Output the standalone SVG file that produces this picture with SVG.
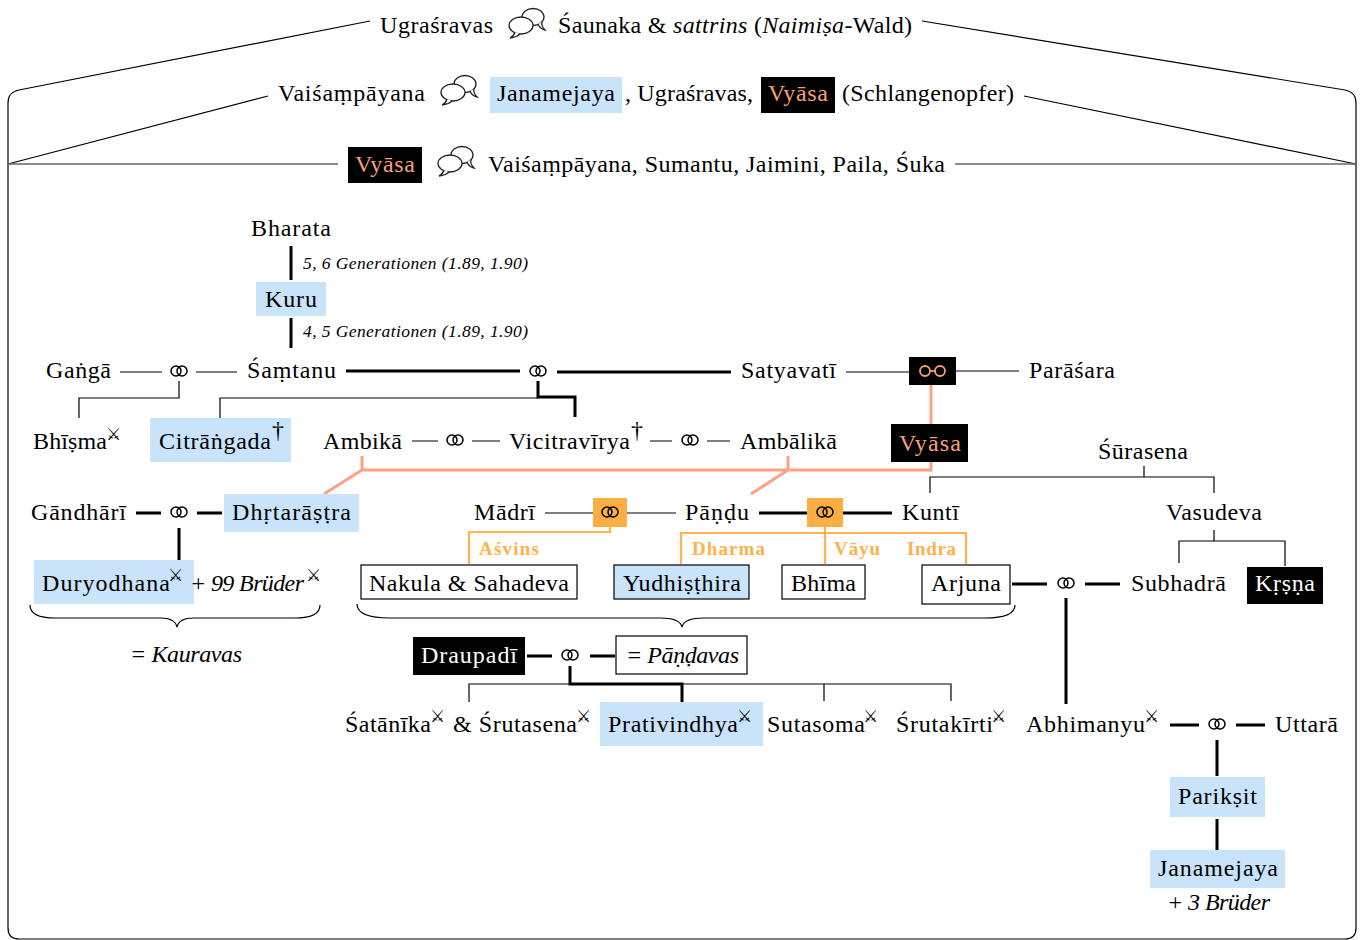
<svg xmlns="http://www.w3.org/2000/svg" xmlns:xlink="http://www.w3.org/1999/xlink" width="1363" height="940" viewBox="0 0 1363 940">
<style>
.t{font-family:"Liberation Serif","DejaVu Serif",serif;font-size:24px;fill:#000}
.i{font-style:italic}
.s{font-family:"Liberation Serif","DejaVu Serif",serif;font-size:17.5px;font-style:italic;fill:#000}
.lab{font-family:"Liberation Serif","DejaVu Serif",serif;font-weight:bold;font-size:19px;fill:#fdb24a}
.v{fill:#f6a07c}
.w{fill:#fff}
.x{font-family:"DejaVu Sans",sans-serif;font-size:17px;fill:#000}
.blue{fill:#c9e3fb}
.blk{fill:#000}
.ob{fill:#fdae42}
.box{fill:#fff;stroke:#000;stroke-width:1.2}
.boxb{fill:#c9e3fb;stroke:#000;stroke-width:1.2}
.thin{stroke:#000;stroke-width:1.2;fill:none}
.gray{stroke:#666;stroke-width:1.6;fill:none}
.thick{stroke:#000;stroke-width:3;fill:none}
.sal{stroke:#fca184;stroke-width:3;fill:none}
.org{stroke:#fdb44b;stroke-width:2.2;fill:none}
.frame{stroke:#000;stroke-width:1.2;fill:none}
</style>
<defs>
<g id="m" fill="none" stroke="#000" stroke-width="1.5"><circle cx="-3" cy="0" r="5"/><circle cx="3" cy="0" r="5"/></g>
<g id="bub" stroke="#222" stroke-width="1.3" fill="#fff">
<ellipse cx="26" cy="10" rx="11" ry="8.5"/>
<path d="M31,17 Q33,22 38,23 Q34,19 35,15"/>
<ellipse cx="14" cy="18.5" rx="12" ry="8.5"/>
<path d="M8,25 Q7,29 3,31 Q10,30 13,27"/>
</g>
</defs>

<g id="frame">
<path class="frame" d="M370,21 L19,90 Q8,92 8,103 L8,928 Q8,939 19,939 L1345,939 Q1356,939 1356,928 L1356,103 Q1356,92 1345,90 L922,21"/>
<path class="frame" d="M268,96 L8,164"/>
<path class="frame" d="M1024,96 L1356,164"/>
<path class="gray" d="M8,164 H338"/>
<path class="gray" d="M955,164 H1356"/>
</g>

<g id="header1">
<text class="t" x="380" y="33" textLength="113">Ugraśravas</text>
<use href="#bub" x="507" y="7"/>
<text class="t" x="558" y="33" textLength="354">Śaunaka &amp; <tspan class="i">sattrins</tspan> (<tspan class="i">Naimiṣa</tspan>-Wald)</text>
</g>
<g id="header2">
<text class="t" x="278" y="101" textLength="147">Vaiśaṃpāyana</text>
<use href="#bub" x="439" y="74"/>
<rect class="blue" x="490" y="77" width="132" height="36"/>
<text class="t" x="497" y="101" textLength="118">Janamejaya</text>
<text class="t" x="625" y="101" textLength="128">, Ugraśravas,</text>
<rect class="blk" x="761" y="77" width="74" height="36"/>
<text class="t v" x="768" y="101" textLength="60">Vyāsa</text>
<text class="t" x="842" y="101" textLength="172">(Schlangenopfer)</text>
</g>
<g id="header3">
<rect class="blk" x="348" y="147" width="74" height="36"/>
<text class="t v" x="355" y="172" textLength="60">Vyāsa</text>
<use href="#bub" x="436" y="145"/>
<text class="t" x="488" y="172" textLength="457">Vaiśaṃpāyana, Sumantu, Jaimini, Paila, Śuka</text>
</g>

<g id="connectors">
<path class="thick" d="M291,246 V280"/>
<path class="thick" d="M291,318 V348"/>
<path class="thin" d="M120,372 H162 M196,372 H237"/>
<path class="thick" d="M346,371 H520 M557,372 H731"/>
<path class="thin" d="M846,372 H909 M956,371 H1019"/>
<path class="thin" d="M179,381 V398 H79 V418"/>
<path class="thin" d="M538,398 H220 V418"/>
<path class="thick" d="M538,381 V397 H575 V417"/>
<path class="sal" d="M931,385 V424"/>
<path class="sal" d="M931,462 V470 H362 V456 M788,456 V470 M362,470 L324,494 M788,470 L751,494"/>
<path class="thin" d="M412,441 H438 M472,441 H500 M650,441 H672 M707,441 H730"/>
<path class="thick" d="M136,513 H161 M197,513 H222 M179,528 V560"/>
<path class="thin" d="M545,513 H593 M627,513 H676"/>
<path class="thick" d="M759,513 H807 M843,513 H892"/>
<path class="org" d="M610,527 V532 H469 V564"/>
<path class="org" d="M825,527 V533 M681,564 V533 H966 V564 M825,533 V564"/>
<path class="thin" d="M1144,466 V477 M930,493 V477 H1214 V493"/>
<path class="thin" d="M1214,530 V541 M1179,563 V541 H1285 V566"/>
<path class="thick" d="M1012,584 H1047 M1085,584 H1120 M1066,598 V704"/>
<path class="thin" d="M30,605 Q30,618 55,618 H160 Q175,618 177,627 Q179,618 194,618 H295 Q320,618 320,605"/>
<path class="thin" d="M357,604 Q357,618 390,618 H660 Q680,618 682,627 Q684,618 704,618 H985 Q1015,618 1015,605"/>
<path class="thick" d="M527,656 H552 M590,656 H615 M570,666 V684 H682 V703"/>
<path class="thin" d="M469,702 V684 H951 V701 M824,684 V701"/>
<path class="thick" d="M1170,725 H1199 M1236,725 H1265 M1217,740 V776 M1217,819 V850"/>
</g>

<g id="marriages">
<use href="#m" x="179" y="371"/>
<use href="#m" x="538" y="371"/>
<use href="#m" x="455" y="440"/>
<use href="#m" x="690" y="440"/>
<use href="#m" x="179" y="512"/>
<use href="#m" x="1066" y="583"/>
<use href="#m" x="570" y="655"/>
<use href="#m" x="1217" y="724"/>
</g>

<g id="bharata"><text class="t" x="251" y="236" textLength="80">Bharata</text></g>
<g id="gen1"><text class="s" x="303" y="269" textLength="225">5, 6 Generationen (1.89, 1.90)</text></g>
<g id="kuru"><rect class="blue" x="256" y="282" width="70" height="34"/><text class="t" x="265" y="307" textLength="52">Kuru</text></g>
<g id="gen2"><text class="s" x="303" y="337" textLength="225">4, 5 Generationen (1.89, 1.90)</text></g>
<g id="ganga"><text class="t" x="46" y="378" textLength="65">Gaṅgā</text></g>
<g id="samtanu"><text class="t" x="247" y="378" textLength="89">Śaṃtanu</text></g>
<g id="satyavati"><text class="t" x="741" y="378" textLength="95">Satyavatī</text></g>
<g id="unmarried">
<rect class="blk" x="909" y="357" width="47" height="28"/>
<circle cx="925" cy="371" r="5" fill="none" stroke="#f6a07c" stroke-width="1.8"/>
<circle cx="940" cy="371" r="5" fill="none" stroke="#f6a07c" stroke-width="1.8"/>
<path d="M930,371 H935" stroke="#f6a07c" stroke-width="1.8"/>
</g>
<g id="parasara"><text class="t" x="1029" y="378" textLength="86">Parāśara</text></g>

<g id="bhisma"><text class="t" x="33" y="449" textLength="74">Bhīṣma</text><text class="x" x="106" y="440">⚔︎</text></g>
<g id="citrangada"><rect class="blue" x="150" y="418" width="141" height="44"/><text class="t" x="159" y="449" textLength="112">Citrāṅgada</text><text class="t" x="272" y="438" font-size="15">†</text></g>
<g id="ambika"><text class="t" x="323" y="449" textLength="79">Ambikā</text></g>
<g id="vicitravirya"><text class="t" x="509" y="449" textLength="121">Vicitravīrya</text><text class="t" x="631" y="438" font-size="15">†</text></g>
<g id="ambalika"><text class="t" x="740" y="449" textLength="97">Ambālikā</text></g>
<g id="vyasa"><rect class="blk" x="891" y="424" width="77" height="38"/><text class="t v" x="899" y="451" textLength="62">Vyāsa</text></g>
<g id="surasena"><text class="t" x="1098" y="459" textLength="90">Śūrasena</text></g>

<g id="gandhari"><text class="t" x="31" y="520" textLength="95">Gāndhārī</text></g>
<g id="dhrtarastra"><rect class="blue" x="224" y="494" width="135" height="38"/><text class="t" x="232" y="520" textLength="119">Dhṛtarāṣṭra</text></g>
<g id="madri"><text class="t" x="474" y="520" textLength="61">Mādrī</text></g>
<g id="madri-m"><rect class="ob" x="593" y="498" width="34" height="29"/><use href="#m" x="610" y="512"/></g>
<g id="pandu"><text class="t" x="685" y="520" textLength="64">Pāṇḍu</text></g>
<g id="kunti-m"><rect class="ob" x="807" y="498" width="36" height="29"/><use href="#m" x="825" y="512"/></g>
<g id="kunti"><text class="t" x="902" y="520" textLength="57">Kuntī</text></g>
<g id="vasudeva"><text class="t" x="1166" y="520" textLength="96">Vasudeva</text></g>

<g id="gods">
<text class="lab" x="479" y="555" textLength="60">Aśvins</text>
<text class="lab" x="692" y="555" textLength="73">Dharma</text>
<text class="lab" x="834" y="555" textLength="46">Vāyu</text>
<text class="lab" x="907" y="555" textLength="49">Indra</text>
</g>

<g id="duryodhana"><rect class="blue" x="34" y="560" width="160" height="44"/><text class="t" x="42" y="591" textLength="128">Duryodhana</text><text class="x" x="168" y="581">⚔︎</text></g>
<g id="brueder99"><text class="t i" x="190" y="591" textLength="114">+ 99 Brüder</text><text class="x" x="306" y="581">⚔︎</text></g>
<g id="nakula"><rect class="box" x="361" y="565" width="216" height="34"/><text class="t" x="369" y="591" textLength="200">Nakula &amp; Sahadeva</text></g>
<g id="yudhisthira"><rect class="boxb" x="614" y="565" width="135" height="34"/><text class="t" x="623" y="591" textLength="118">Yudhiṣṭhira</text></g>
<g id="bhima"><rect class="box" x="782" y="565" width="83" height="34"/><text class="t" x="791" y="591" textLength="65">Bhīma</text></g>
<g id="arjuna"><rect class="box" x="922" y="565" width="88" height="39"/><text class="t" x="931" y="591" textLength="70">Arjuna</text></g>
<g id="subhadra"><text class="t" x="1131" y="591" textLength="95">Subhadrā</text></g>
<g id="krsna"><rect class="blk" x="1247" y="567" width="76" height="37"/><text class="t w" x="1255" y="591" textLength="60">Kṛṣṇa</text></g>

<g id="kauravas"><text class="t i" x="130" y="662" textLength="112">= Kauravas</text></g>
<g id="draupadi"><rect class="blk" x="413" y="637" width="112" height="38"/><text class="t w" x="421" y="663" textLength="96">Draupadī</text></g>
<g id="pandavas"><rect class="box" x="616" y="636" width="131" height="38"/><text class="t i" x="626" y="663" textLength="113">= Pāṇḍavas</text></g>

<g id="satanika"><text class="t" x="345" y="732" textLength="86">Śatānīka</text><text class="x" x="430" y="722">⚔︎</text><text class="t" x="453" y="732" textLength="124">&amp; Śrutasena</text><text class="x" x="576" y="722">⚔︎</text></g>
<g id="prativindhya"><rect class="blue" x="600" y="702" width="163" height="44"/><text class="t" x="608" y="732" textLength="130">Prativindhya</text><text class="x" x="737" y="722">⚔︎</text></g>
<g id="sutasoma"><text class="t" x="767" y="732" textLength="98">Sutasoma</text><text class="x" x="863" y="722">⚔︎</text></g>
<g id="srutakirti"><text class="t" x="896" y="732" textLength="97">Śrutakīrti</text><text class="x" x="991" y="722">⚔︎</text></g>
<g id="abhimanyu"><text class="t" x="1026" y="732" textLength="119">Abhimanyu</text><text class="x" x="1144" y="722">⚔︎</text></g>
<g id="uttara"><text class="t" x="1275" y="732" textLength="63">Uttarā</text></g>
<g id="pariksit"><rect class="blue" x="1170" y="777" width="95" height="40"/><text class="t" x="1178" y="804" textLength="79">Parikṣit</text></g>
<g id="janamejaya"><rect class="blue" x="1150" y="850" width="135" height="38"/><text class="t" x="1158" y="876" textLength="120">Janamejaya</text><text class="t i" x="1167" y="910" textLength="103">+ 3 Brüder</text></g>
</svg>
